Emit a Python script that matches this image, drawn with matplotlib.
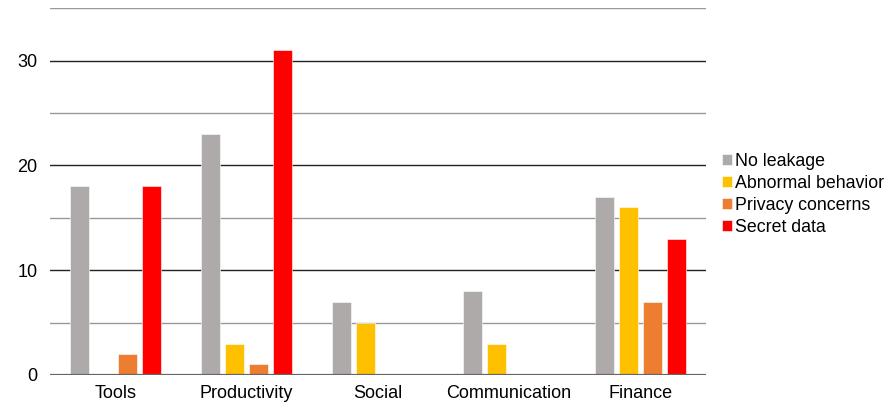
import matplotlib
matplotlib.use("Agg")
from matplotlib import pyplot as plt
import numpy as np

categories = ["Tools", "Productivity", "Social", "Communication", "Finance"]
series = ["No leakage", "Abnormal behavior", "Privacy concerns", "Secret data"]
no_leakage = [18, 23, 7, 8, 17]
abnormal = [0, 3, 5, 3, 16]
privacy = [2, 1, 0, 0, 7]
secret = [18, 31, 0, 0, 13]
colors = ["#AEAAAA", "#FFC000", "#ED7D31", "#FF0000"]

plt.rcParams['font.family'] = ['Liberation Sans', 'DejaVu Sans']

fig = plt.figure(figsize=(8.91, 4.08), dpi=100)
ax = fig.add_axes([0.056, 0.081, 0.736, 0.899])

x = np.arange(len(categories))
width = 0.145
step = 0.183
for i, (vals, name, c) in enumerate(zip([no_leakage, abnormal, privacy, secret], series, colors)):
    ax.bar(x + (i - 1.5) * step, vals, width, color=c, label=name,
           edgecolor="white", linewidth=0.4, zorder=3)

ax.set_xlim(-0.5, len(categories) - 0.5)
ax.set_ylim(0, 35)
ax.set_yticks([0, 10, 20, 30])
ax.set_yticks([5, 15, 25, 35], minor=True)
ax.grid(axis="y", which="major", color="#222222", linewidth=1.0, zorder=0)
ax.grid(axis="y", which="minor", color="#999999", linewidth=1.0, zorder=0)
ax.axhline(0, color="#666666", linewidth=1.6, zorder=4)
ax.set_xticks(x)
ax.set_xticklabels(categories)
ax.tick_params(axis="both", which="both", length=0, labelsize=13, pad=7)
ax.tick_params(axis="y", pad=9)
for s in ax.spines.values():
    s.set_visible(False)

ax.legend(loc="center left", bbox_to_anchor=(0.802, 0.524), bbox_transform=fig.transFigure,
          frameon=False, fontsize=12.8, handlelength=0.6, handleheight=0.6,
          handletextpad=0.15, labelspacing=0.28, borderaxespad=0)

fig.savefig("out.png", dpi=100)
